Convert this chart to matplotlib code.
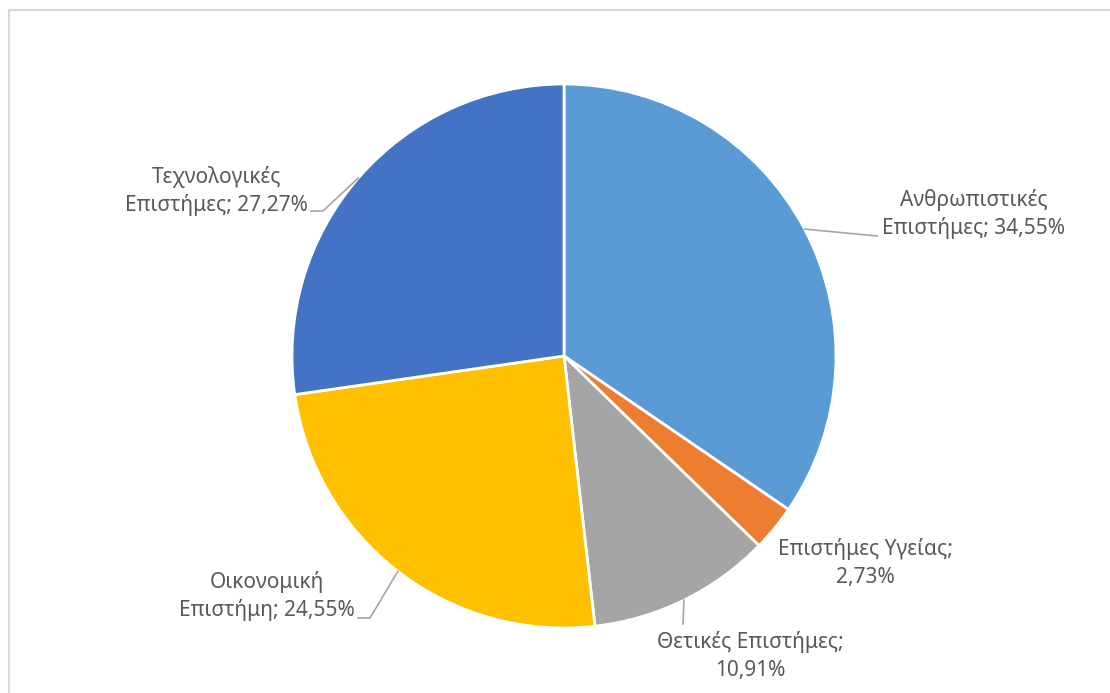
import numpy as np
import matplotlib.pyplot as plt

labels = ["Ανθρωπιστικές\nΕπιστήμες; 34,55%", "Επιστήμες Υγείας;\n2,73%",
          "Θετικές Επιστήμες;\n10,91%", "Οικονομική\nΕπιστήμη; 24,55%",
          "Τεχνολογικές\nΕπιστήμες; 27,27%"]
values = [34.55, 2.73, 10.91, 24.55, 27.27]
colors = ["#5B9BD5", "#ED7D31", "#A5A5A5", "#FFC000", "#4472C4"]

# label placement (pixel positions of text centre, leader elbows)
text_px = [(974, 214), (865, 563), (750, 656), (267, 596), (216, 191)]
elbows_px = [[(877, 236)], [], [(683, 624)], [(370, 618), (358, 618)], [(323, 211), (311, 211)]]

W, H = 1110, 693
cx, cy, R = 564, 356, 272

fig = plt.figure(figsize=(W / 100, H / 100), dpi=100)
ax = fig.add_axes([(cx - R) / W, (H - cy - R) / H, 2 * R / W, 2 * R / H])
ax.pie(values, colors=colors, startangle=90, counterclock=False, radius=1,
       wedgeprops=dict(edgecolor="white", linewidth=2))
ax.set_xlim(-1, 1)
ax.set_ylim(-1, 1)
ax.set_aspect("equal")
ax.axis("off")


def to_data(p):
    return ((p[0] - cx) / R, (cy - p[1]) / R)


total = sum(values)
cum = 0
for lab, v, tp, el in zip(labels, values, text_px, elbows_px):
    mid = np.deg2rad(90 - (cum + v / 2) / total * 360)
    cum += v
    if el:
        pts = [(np.cos(mid), np.sin(mid))] + [to_data(p) for p in el]
        xs, ys = zip(*pts)
        ax.plot(xs, ys, color="#A6A6A6", lw=1.2, clip_on=False)
    tx, ty = to_data(tp)
    ax.text(tx, ty, lab, ha="center", va="center", fontsize=15, color="#595959",
            family="Noto Sans", linespacing=1.38, clip_on=False)

# chart border
fig.add_artist(plt.Line2D([9 / W, 9 / W], [0, 1 - 10 / H], color="#D9D9D9", lw=1.5))
fig.add_artist(plt.Line2D([9 / W, 1], [1 - 10 / H, 1 - 10 / H], color="#D9D9D9", lw=1.5))

fig.savefig("out.png", dpi=100, facecolor="white")
